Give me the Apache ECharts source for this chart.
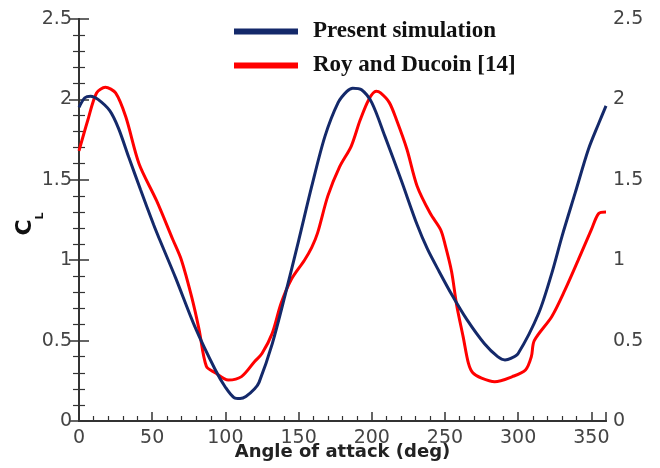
<!DOCTYPE html>
<html>
<head>
<meta charset="utf-8">
<script src="https://cdn.jsdelivr.net/npm/echarts@6/dist/echarts.min.js"></script>
<style>html,body{margin:0;padding:0;background:#fff}#chart{width:660px;height:468px}</style>
</head>
<body>
<div id="chart"></div>
<script>
// Present simulation (blue)
var simAngle = [0, 4, 8, 13, 21, 27, 34, 42, 51, 55, 66, 79, 93, 100, 106, 110, 114, 120, 123, 132, 141, 150, 159, 168, 177, 183, 187, 193, 200, 209, 220, 231, 238, 246, 255, 265, 277, 286, 291, 295, 300, 314, 323, 330, 339, 348, 355, 360];
var simCL    = [1.95, 2.01, 2.02, 2.0, 1.93, 1.82, 1.64, 1.44, 1.22, 1.13, 0.89, 0.59, 0.32, 0.21, 0.145, 0.14, 0.152, 0.2, 0.24, 0.48, 0.79, 1.12, 1.46, 1.77, 1.98, 2.05, 2.07, 2.06, 1.98, 1.77, 1.50, 1.22, 1.07, 0.93, 0.78, 0.63, 0.48, 0.40, 0.38, 0.39, 0.42, 0.67, 0.92, 1.15, 1.42, 1.69, 1.85, 1.96];
// Roy and Ducoin [14] (red)
var royAngle = [0, 6, 12, 18, 25, 32, 41, 53, 64, 70, 77, 82, 87, 93, 102, 111, 120, 125, 132, 138, 145, 154, 159, 163, 170, 178, 186, 192, 198, 203, 206, 212, 217, 224, 231, 240, 247, 250, 254.5, 258, 262.5, 266, 269, 275, 284, 296, 305, 309, 311, 323, 332, 341, 350, 355, 360];
var royCL    = [1.68, 1.87, 2.04, 2.075, 2.04, 1.89, 1.60, 1.37, 1.13, 1.0, 0.77, 0.57, 0.34, 0.30, 0.255, 0.276, 0.37, 0.42, 0.545, 0.73, 0.88, 1.0, 1.08, 1.17, 1.40, 1.58, 1.71, 1.87, 2.0, 2.05, 2.04, 1.98, 1.87, 1.69, 1.46, 1.29, 1.19, 1.10, 0.93, 0.72, 0.52, 0.36, 0.30, 0.266, 0.244, 0.276, 0.317, 0.40, 0.50, 0.65, 0.815, 1.0, 1.19, 1.29, 1.30];
var seriesNames = ['Present simulation', 'Roy and Ducoin [14]'];

function zip(a, b) { return a.map(function (v, i) { return [v, b[i]]; }); }

var axisColor = '#333';
var labelFont = 'DejaVu Sans';
var chart = echarts.init(document.getElementById('chart'));
chart.setOption({
  animation: false,
  backgroundColor: '#fff',
  grid: { left: 79, right: 54, top: 19, bottom: 47, containLabel: false, outerBoundsMode: 'none' },
  legend: {
    orient: 'vertical',
    left: 234, top: 20, padding: 0,
    itemWidth: 64, itemHeight: 6,
    itemGap: 11,
    icon: 'rect',
    data: seriesNames,
    textStyle: { fontFamily: 'Liberation Serif', fontWeight: 'bold', fontSize: 23, color: '#111', lineHeight: 23, padding: [0, 0, 0, 10] }
  },
  xAxis: [{
    type: 'value', position: 'bottom', min: 0, max: 360, interval: 50,
    axisLine: { lineStyle: { color: axisColor, width: 2 } },
    axisTick: { inside: true, length: 9, lineStyle: { color: axisColor, width: 1.5 } },
    minorTick: { show: true, splitNumber: 5, length: 5, lineStyle: { color: axisColor, width: 1.2 } },
    splitLine: { show: false },
    axisLabel: { color: '#444', fontFamily: labelFont, fontSize: 19, margin: 8, showMaxLabel: false },
    name: 'Angle of attack (deg)', nameLocation: 'middle', nameGap: 22, nameMoveOverlap: false,
    nameTextStyle: { fontFamily: labelFont, fontWeight: 'bold', fontSize: 18, color: '#222' }
  }, {
    type: 'value', position: 'top', min: 0, max: 360,
    axisLine: { show: true, lineStyle: { color: axisColor, width: 2 } },
    axisTick: { show: false }, axisLabel: { show: false }, splitLine: { show: false }
  }],
  yAxis: [{
    type: 'value', position: 'left', min: 0, max: 2.5, interval: 0.5,
    axisLine: { show: true, lineStyle: { color: axisColor, width: 2 } },
    axisTick: { inside: true, length: 10, lineStyle: { color: axisColor, width: 1.5 } },
    minorTick: { show: true, splitNumber: 5, length: 6, lineStyle: { color: axisColor, width: 1.2 } },
    splitLine: { show: false },
    axisLabel: { color: '#444', fontFamily: labelFont, fontSize: 19, margin: 7 },
    name: '{c|C}{l|L}', nameLocation: 'middle', nameGap: 33, nameRotate: 90, nameMoveOverlap: false,
    nameTextStyle: {
      padding: [0, 8, 0, 0],
      rich: {
        c: { fontFamily: labelFont, fontWeight: 'bold', fontSize: 22, color: '#111', lineHeight: 32, verticalAlign: 'top' },
        l: { fontFamily: labelFont, fontWeight: 'bold', fontSize: 11, color: '#111', lineHeight: 10, verticalAlign: 'bottom' }
      }
    }
  }, {
    type: 'value', position: 'right', min: 0, max: 2.5, interval: 0.5,
    axisLine: { show: true, lineStyle: { color: axisColor, width: 2 } },
    axisTick: { inside: true, length: 10, lineStyle: { color: axisColor, width: 1.5 } },
    minorTick: { show: true, splitNumber: 5, length: 6, lineStyle: { color: axisColor, width: 1.2 } },
    splitLine: { show: false },
    axisLabel: { color: '#444', fontFamily: labelFont, fontSize: 19, margin: 7 }
  }],
  series: [{
    name: seriesNames[0], type: 'line', xAxisIndex: 0, yAxisIndex: 0,
    data: zip(simAngle, simCL), smooth: 0.3, showSymbol: false, z: 3,
    itemStyle: { color: '#14296a' },
    lineStyle: { color: '#14296a', width: 3 }
  }, {
    name: seriesNames[1], type: 'line', xAxisIndex: 0, yAxisIndex: 0,
    data: zip(royAngle, royCL), smooth: 0.3, showSymbol: false, z: 2,
    itemStyle: { color: '#ff0000' },
    lineStyle: { color: '#ff0000', width: 3 }
  }]
});
</script>
</body>
</html>
